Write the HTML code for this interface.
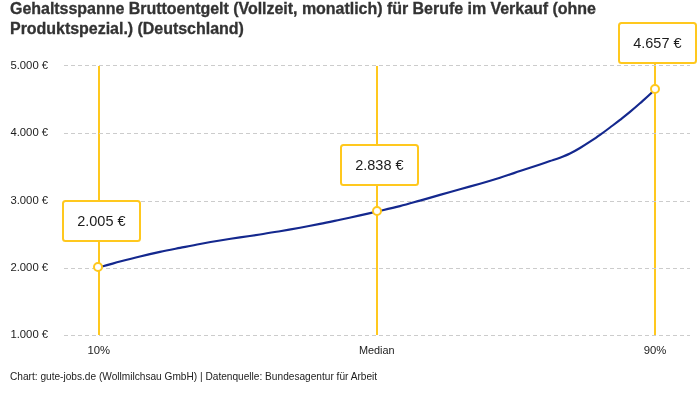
<!DOCTYPE html>
<html><head><meta charset="utf-8"><style>
html,body{margin:0;padding:0;background:#fff;}
body{width:700px;height:400px;overflow:hidden;position:relative;font-family:"Liberation Sans",sans-serif;color:#222;}
.title{position:absolute;left:10px;top:-0.6px;font-size:16px;font-weight:bold;line-height:19.2px;white-space:nowrap;color:#333;letter-spacing:-0.03px;-webkit-text-stroke:0.3px #333;}
.foot{position:absolute;left:10px;top:371px;font-size:10.13px;line-height:12px;white-space:nowrap;color:#222;}
svg{position:absolute;left:0;top:0;}
svg text{font-family:"Liberation Sans",sans-serif;fill:#1c1c1c;}
</style></head><body>
<div class="title"><div id="t1">Gehaltsspanne Bruttoentgelt (Vollzeit, monatlich) für Berufe im Verkauf (ohne</div><div id="t2">Produktspezial.) (Deutschland)</div></div>
<svg width="700" height="400" viewBox="0 0 700 400">
<g stroke="#ffc81e" stroke-width="2">
<line x1="99" x2="99" y1="66" y2="335"/>
<line x1="377" x2="377" y1="66" y2="335"/>
<line x1="655" x2="655" y1="63" y2="335"/>
</g>
<g stroke="#cccccc" stroke-width="1" stroke-dasharray="4,3" fill="none" shape-rendering="crispEdges">
<line x1="64" x2="690" y1="65.5" y2="65.5"/>
<line x1="64" x2="690" y1="133.5" y2="133.5"/>
<line x1="64" x2="690" y1="201.5" y2="201.5"/>
<line x1="64" x2="690" y1="268.5" y2="268.5"/>
<line x1="64" x2="690" y1="335.5" y2="335.5"/>
</g>
<g font-size="11.3">
<text x="10.4" y="69.1">5.000 €</text>
<text x="10.4" y="136.2">4.000 €</text>
<text x="10.4" y="204.2">3.000 €</text>
<text x="10.4" y="271.2">2.000 €</text>
<text x="10.4" y="338.2">1.000 €</text>
<text x="98.7" y="354" text-anchor="middle">10%</text>
<text x="376.8" y="354" text-anchor="middle" font-size="10.9">Median</text>
<text x="655" y="354" text-anchor="middle">90%</text>
</g>
<path d="M98,267C99.7,266.75,101.3,266.66,103,266.25C108.7,264.85,114.3,263.05,120,261.54999999999995C126.7,259.78,133.3,258.06,140,256.45C146.7,254.84,153.3,253.32,160,251.9C166.7,250.48,173.3,249.22,180,247.9C186.7,246.58,193.3,245.23,200,244.0C206.7,242.77,213.3,241.60,220,240.5C226.7,239.40,233.3,238.40,240,237.4C246.7,236.40,253.3,235.53,260,234.5C266.7,233.47,273.3,232.33,280,231.2C286.7,230.07,293.3,228.92,300,227.7C306.7,226.48,313.3,225.23,320,223.9C326.7,222.57,333.3,221.12,340,219.7C346.7,218.28,353.3,216.88,360,215.4C365.7,214.14,371.3,212.82,377,211.5C384.7,209.72,392.3,208.04,400,206.1C406.7,204.41,413.3,202.47,420,200.6C426.7,198.73,433.3,196.79,440,194.9C446.7,193.01,453.3,191.12,460,189.25C466.7,187.38,473.3,185.62,480,183.7C486.7,181.77,493.3,179.80,500,177.7C506.7,175.60,513.3,173.32,520,171.1C526.7,168.88,533.3,166.62,540,164.4C543.3,163.29,546.7,162.22,550,161.1C553.3,159.98,556.7,158.97,560,157.7C563.3,156.43,566.7,155.12,570,153.5C573.3,151.88,576.7,149.97,580,148.0C583.3,146.03,586.7,143.88,590,141.7C593.3,139.52,596.7,137.27,600,134.9C603.3,132.53,606.7,130.00,610,127.5C613.3,125.00,616.7,122.50,620,119.9C623.3,117.30,626.7,114.68,630,111.9C633.3,109.12,636.7,106.19,640,103.25C643.3,100.31,646.7,97.42,650,94.25C651.7,92.67,653.3,90.75,655,89" fill="none" stroke="#14288e" stroke-width="2.15"/>
<g fill="#fff" stroke="#ffc81e" stroke-width="2">
<circle cx="98" cy="267" r="4"/>
<circle cx="377" cy="211" r="4"/>
<circle cx="655" cy="89" r="4"/>
<rect x="63" y="201" width="77" height="40" rx="2.5"/>
<rect x="341" y="145" width="77" height="40" rx="2.5"/>
<rect x="619" y="23" width="77" height="40" rx="2.5"/>
</g>
<g font-size="14.5" text-anchor="middle">
<text x="101.4" y="226.1">2.005 €</text>
<text x="379.4" y="170.1">2.838 €</text>
<text x="657.4" y="48.1">4.657 €</text>
</g>
</svg>
<div class="foot" id="ft">Chart: gute-jobs.de (Wollmilchsau GmbH) | Datenquelle: Bundesagentur für Arbeit</div>
</body></html>
